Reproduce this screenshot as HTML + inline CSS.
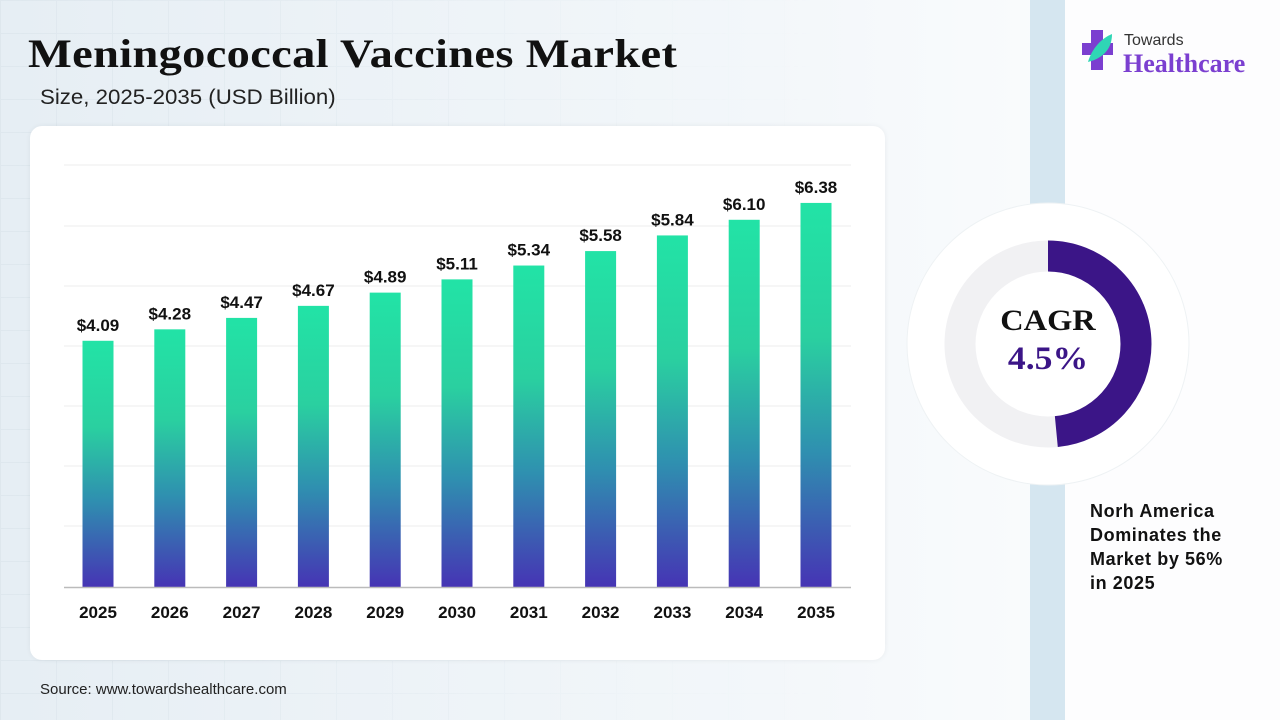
<!DOCTYPE html>
<html><head><meta charset="utf-8"><style>
body{margin:0;width:1280px;height:720px;overflow:hidden;font-family:"Liberation Sans",sans-serif;}
.bg{position:absolute;left:0;top:0;width:1280px;height:720px;background:linear-gradient(90deg,#e6eef4 0%,#f3f7fa 60%,#ffffff 100%);}
.grid{position:absolute;left:0;top:0;width:1030px;height:720px;background-image:linear-gradient(#d9e3ea 1px,transparent 1px),linear-gradient(90deg,#d9e3ea 1px,transparent 1px);background-size:56px 33px;opacity:.6;-webkit-mask-image:linear-gradient(90deg,#000 0%,rgba(0,0,0,.3) 50%,transparent 80%);}
.strip{position:absolute;left:1030px;top:0;width:35px;height:720px;background:#d5e6f0;}
.right{position:absolute;left:1065px;top:0;width:215px;height:720px;background:#fdfdfe;}
h1{position:absolute;left:28px;top:30px;margin:0;font-family:"Liberation Serif",serif;font-weight:bold;font-size:40px;color:#111;letter-spacing:.3px;transform:scaleX(1.16);transform-origin:0 0;white-space:nowrap;}
.sub{position:absolute;left:40px;top:86px;font-size:21px;color:#222;transform:scaleX(1.06);transform-origin:0 0;white-space:nowrap;}
.card{position:absolute;left:30px;top:126px;width:855px;height:534px;background:#fff;border-radius:12px;box-shadow:0 0 6px rgba(0,0,0,.06);}
.src{position:absolute;left:40px;top:681px;font-size:15px;color:#222;}
.note{position:absolute;left:1090px;top:499px;font-size:18px;font-weight:bold;color:#111;line-height:24px;letter-spacing:.6px;}
</style></head><body>
<div class="bg"></div><div class="grid"></div>
<div class="strip"></div><div class="right"></div>
<h1>Meningococcal Vaccines Market</h1>
<div class="sub">Size, 2025-2035 (USD Billion)</div>
<div class="card"></div>
<svg style="position:absolute;left:0;top:0" width="1280" height="720">
<defs><linearGradient id="g" x1="0" y1="0" x2="0" y2="1"><stop offset="0" stop-color="#22e3a6"/><stop offset="0.35" stop-color="#2ad0a0"/><stop offset="0.65" stop-color="#2f8fb0"/><stop offset="1" stop-color="#4634b4"/></linearGradient></defs>
<g stroke="#eeeeee" stroke-width="1">
<line x1="64" x2="851" y1="165" y2="165"/><line x1="64" x2="851" y1="226" y2="226"/><line x1="64" x2="851" y1="286" y2="286"/><line x1="64" x2="851" y1="346" y2="346"/><line x1="64" x2="851" y1="406" y2="406"/><line x1="64" x2="851" y1="466" y2="466"/><line x1="64" x2="851" y1="526" y2="526"/>
</g>
<g id="bars"></g>
<line x1="64" x2="851" y1="587.5" y2="587.5" stroke="#bbb" stroke-width="1.5"/>
<circle cx="1048" cy="344" r="141" fill="#fff" stroke="#eef2f4" stroke-width="1"/>
<circle cx="1048" cy="344" r="88" fill="none" stroke="#f1f1f3" stroke-width="31"/>
<circle cx="1048" cy="344" r="88" fill="none" stroke="#3b1587" stroke-width="31" stroke-dasharray="268 600" transform="rotate(-90 1048 344)"/>
<text x="1048" y="330" text-anchor="middle" font-family="Liberation Serif,serif" font-weight="bold" font-size="30" fill="#111" transform="translate(1048 0) scale(1.08 1) translate(-1048 0)">CAGR</text>
<text x="1048" y="369" text-anchor="middle" font-family="Liberation Serif,serif" font-weight="bold" font-size="33" fill="#3b1587" transform="translate(1048 0) scale(1.08 1) translate(-1048 0)">4.5%</text>
<g transform="translate(1082,30)">
<rect x="9" y="0" width="12" height="40" fill="#7b3fd0"/><rect x="0" y="13" width="31" height="12" fill="#7b3fd0"/>
<path d="M6 32 C10 18 20 8 30 4 C30 18 22 28 6 32Z" fill="#2fd6b5"/>
</g>
<text x="1124" y="45" font-size="16" fill="#333">Towards</text>
<text x="1123" y="72" font-family="Liberation Serif,serif" font-weight="bold" font-size="26" fill="#7b3fd0">Healthcare</text>
</svg>
<div class="note">Norh America<br>Dominates the<br>Market by 56%<br>in 2025</div>
<div class="src">Source: www.towardshealthcare.com</div>
<script>
var v=[4.09,4.28,4.47,4.67,4.89,5.11,5.34,5.58,5.84,6.10,6.38],s="";
for(var i=0;i<11;i++){var cx=98+i*71.8,h=v[i]*60.2,t=587-h;
s+='<rect x="'+(cx-15.5)+'" y="'+t+'" width="31" height="'+h+'" fill="url(#g)"/>';
s+='<text x="'+cx+'" y="'+(t-10)+'" text-anchor="middle" font-weight="bold" font-size="17" fill="#111">$'+v[i].toFixed(2)+'</text>';
s+='<text x="'+cx+'" y="618" text-anchor="middle" font-weight="bold" font-size="17" fill="#111">'+(2025+i)+'</text>';}
document.getElementById('bars').innerHTML=s;
</script>
</body></html>
